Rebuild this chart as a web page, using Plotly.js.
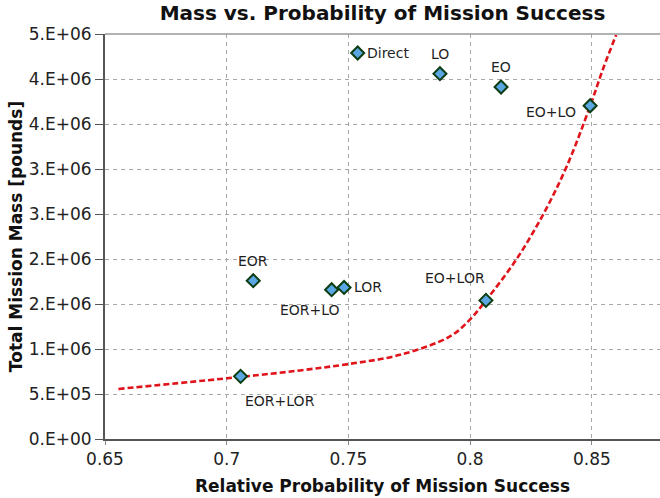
<!DOCTYPE html>
<html>
<head>
<meta charset="utf-8">
<script src="https://cdn.plot.ly/plotly-3.0.1.min.js"></script>
<style>html,body{margin:0;padding:0;background:#fff;}#chart{width:660px;height:498px;}</style>
</head>
<body>
<div id="chart"></div>
<script>
// Architecture points
var names = ["Direct", "LO", "EO", "EO+LO", "EOR", "EOR+LO", "LOR", "EO+LOR", "EOR+LOR"];
var probability = [0.7538, 0.7876, 0.8127, 0.8493, 0.7109, 0.7431, 0.7482, 0.8065, 0.7057];
var mass = [4289000, 4059000, 3911000, 3703000, 1759000, 1659000, 1684000, 1540000, 696000];

// Red dashed trend curve
var curveX = [0.6555, 0.7057, 0.7301, 0.75, 0.7712, 0.7917, 0.7997, 0.8065, 0.8191, 0.8301, 0.8397, 0.8493, 0.8547, 0.8600];
var curveY = [556000, 690000, 762000, 833000, 935000, 1140000, 1320000, 1540000, 2000000, 2500000, 3030000, 3700000, 4120000, 4490000];

// Axis ticks
var yTickVals = [0, 500000, 1000000, 1500000, 2000000, 2500000, 3000000, 3500000, 4000000, 4500000];
var yTickText = ["0.E+00", "5.E+05", "1.E+06", "2.E+06", "2.E+06", "3.E+06", "3.E+06", "4.E+06", "4.E+06", "5.E+06"];
var xTickVals = [0.65, 0.7, 0.75, 0.8, 0.85];
var xTickText = ["0.65", "0.7", "0.75", "0.8", "0.85"];

// label placement (pixel offsets from each point)
var labelStyle = {
  "Direct":  {xs: 7,  ys: 0,   xa: "left"},
  "LO":      {xs: 0,  ys: 20,  xa: "center"},
  "EO":      {xs: 0,  ys: 20,  xa: "center"},
  "EO+LO":   {xs: -12, ys: -6, xa: "right"},
  "EOR":     {xs: 0,  ys: 20,  xa: "center"},
  "EOR+LO":  {xs: -22, ys: -20, xa: "center"},
  "LOR":     {xs: 8,  ys: 0,   xa: "left"},
  "EO+LOR":  {xs: -31, ys: 22, xa: "center"},
  "EOR+LOR": {xs: 39, ys: -25, xa: "center"}
};

var FONT = "DejaVu Sans, Verdana, sans-serif";

var traces = [
  {
    x: curveX, y: curveY, mode: "lines", type: "scatter",
    line: {color: "#e0141b", width: 2.6, dash: "6px,3px", shape: "spline", smoothing: 1},
    hoverinfo: "skip", showlegend: false
  },
  {
    x: probability, y: mass, mode: "markers", type: "scatter", text: names,
    marker: {symbol: "diamond", size: 10, color: "#5aa7e3", line: {color: "#0d3d12", width: 2}},
    showlegend: false
  }
];

var annotations = names.map(function (n, i) {
  var s = labelStyle[n];
  return {
    x: probability[i], y: mass[i], xref: "x", yref: "y", text: n, showarrow: false,
    xshift: s.xs, yshift: s.ys, xanchor: s.xa, yanchor: "middle",
    font: {family: FONT, size: 14, color: "#1f1f1f"}
  };
});

var layout = {
  width: 660, height: 498,
  margin: {l: 105, r: 0, t: 34, b: 59},
  paper_bgcolor: "#ffffff", plot_bgcolor: "#ffffff",
  title: {
    text: "<b>Mass vs. Probability of Mission Success</b>",
    font: {family: FONT, size: 20, color: "#111"},
    x: 0.5795, xanchor: "center", y: 0.973, yanchor: "middle"
  },
  xaxis: {
    range: [0.65, 0.878], tickvals: xTickVals, ticktext: xTickText,
    showgrid: true, gridcolor: "#a8a8a8", griddash: "4px,4px", gridwidth: 1,
    zeroline: false, showline: true, linecolor: "#555", linewidth: 2,
    ticks: "outside", ticklen: 4, tickcolor: "#888", tickwidth: 1,
    tickfont: {family: FONT, size: 17, color: "#222"},
    title: {text: "<b>Relative Probability of Mission Success</b>", font: {family: FONT, size: 17, color: "#111"}, standoff: 12},
    mirror: false
  },
  yaxis: {
    range: [0, 4500000], tickvals: yTickVals, ticktext: yTickText,
    showgrid: true, gridcolor: "#a8a8a8", griddash: "4px,4px", gridwidth: 1,
    zeroline: false, showline: true, linecolor: "#555", linewidth: 2,
    ticks: "outside", ticklen: 8, tickcolor: "#555", tickwidth: 1,
    tickfont: {family: FONT, size: 17, color: "#222"},
    title: {text: "<b>Total Mission Mass [pounds]</b>", font: {family: FONT, size: 17, color: "#111"}, standoff: 2}
  },
  shapes: [
    {type: "line", xref: "paper", yref: "paper", x0: 0, x1: 1, y0: 1, y1: 1, line: {color: "#999", width: 1.5}}
  ],
  annotations: annotations,
  hovermode: false
};

Plotly.newPlot("chart", traces, layout, {displayModeBar: false, staticPlot: true});
</script>
</body>
</html>
